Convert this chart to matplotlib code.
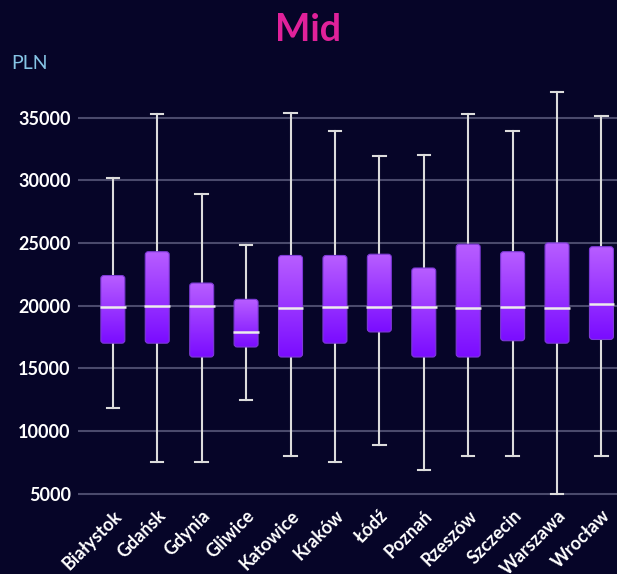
import matplotlib
matplotlib.use("Agg")
import matplotlib.pyplot as plt
import numpy as np
from matplotlib.patches import FancyBboxPatch
from matplotlib.colors import LinearSegmentedColormap

cities = ["Białystok", "Gdańsk", "Gdynia", "Gliwice", "Katowice", "Kraków",
          "Łódź", "Poznań", "Rzeszów", "Szczecin", "Warszawa", "Wrocław"]
whislo = [11800, 7500, 7500, 12500, 8000, 7500, 8900, 6900, 8000, 8000, 5000, 8000]
q1 = [17000, 17000, 15900, 16700, 15900, 17000, 17900, 15900, 15900, 17200, 17000, 17300]
med = [19900, 20000, 20000, 17900, 19800, 19900, 19900, 19900, 19800, 19900, 19800, 20100]
q3 = [22400, 24300, 21800, 20500, 24000, 24000, 24100, 23000, 24900, 24300, 25000, 24700]
whishi = [30200, 35300, 28900, 24800, 35400, 33900, 31900, 32000, 35300, 33900, 37000, 35100]
yticks = [5000, 10000, 15000, 20000, 25000, 30000, 35000]

bg = "#060528"
plt.rcParams["font.family"] = ["Lato", "DejaVu Sans"]

fig = plt.figure(figsize=(6.17, 5.74), dpi=100, facecolor=bg)
ax = fig.add_axes([0.126, 0.129, 0.874, 0.723], facecolor=bg)

stats = []
for i, c in enumerate(cities):
    stats.append({"label": c, "whislo": whislo[i], "q1": q1[i], "med": med[i],
                  "q3": q3[i], "whishi": whishi[i], "fliers": []})

pos = np.arange(len(cities))
ax.bxp(stats, positions=pos, widths=0.58, showfliers=False,
       boxprops=dict(linewidth=0, alpha=0),
       whiskerprops=dict(color="#dcdcdc", linewidth=1.5),
       capprops=dict(color="#dcdcdc", linewidth=1.5),
       medianprops=dict(color="#ececec", linewidth=1.8, zorder=5),
       capwidths=0.28)

# gradient boxes with rounded corners
cmap = LinearSegmentedColormap.from_list("purp", ["#7a0cff", "#b85eff"])
grad = np.linspace(0, 1, 256).reshape(-1, 1)
bw = 0.54
for i in range(len(cities)):
    x0 = pos[i] - bw / 2
    patch = FancyBboxPatch((x0, q1[i]), bw, q3[i] - q1[i],
                           boxstyle="round,pad=0,rounding_size=0.07",
                           mutation_aspect=3500,
                           facecolor="none", edgecolor="#7d3ad6", linewidth=0.8,
                           zorder=3)
    ax.add_patch(patch)
    im = ax.imshow(grad, cmap=cmap, aspect="auto", origin="lower",
                   extent=(x0, x0 + bw, q1[i], q3[i]), zorder=2)
    im.set_clip_path(patch)

ax.set_xlim(-0.79, 11.35)
ax.set_ylim(4500, 37600)
ax.set_yticks(yticks)
ax.set_yticklabels([str(v) for v in yticks], fontsize=13, fontweight="bold", color="white")
ax.set_xticks(pos)
ax.set_xticklabels(cities, rotation=45, ha="right", rotation_mode="anchor",
                   fontsize=13, fontweight="bold", color="white")
ax.tick_params(axis="y", length=0, pad=5)
ax.tick_params(axis="x", length=0, pad=5)
ax.grid(axis="y", color="#4a4a6c", linewidth=1.5)
ax.set_axisbelow(True)
for s in ax.spines.values():
    s.set_visible(False)

fig.text(0.5, 0.947, "Mid", ha="center", va="center", fontsize=27,
         fontweight="bold", color="#e0219a")
fig.text(0.019, 0.889, "PLN", ha="left", va="center", fontsize=14, color="#86c5e6")

fig.savefig("out.png", dpi=100, facecolor=bg)
